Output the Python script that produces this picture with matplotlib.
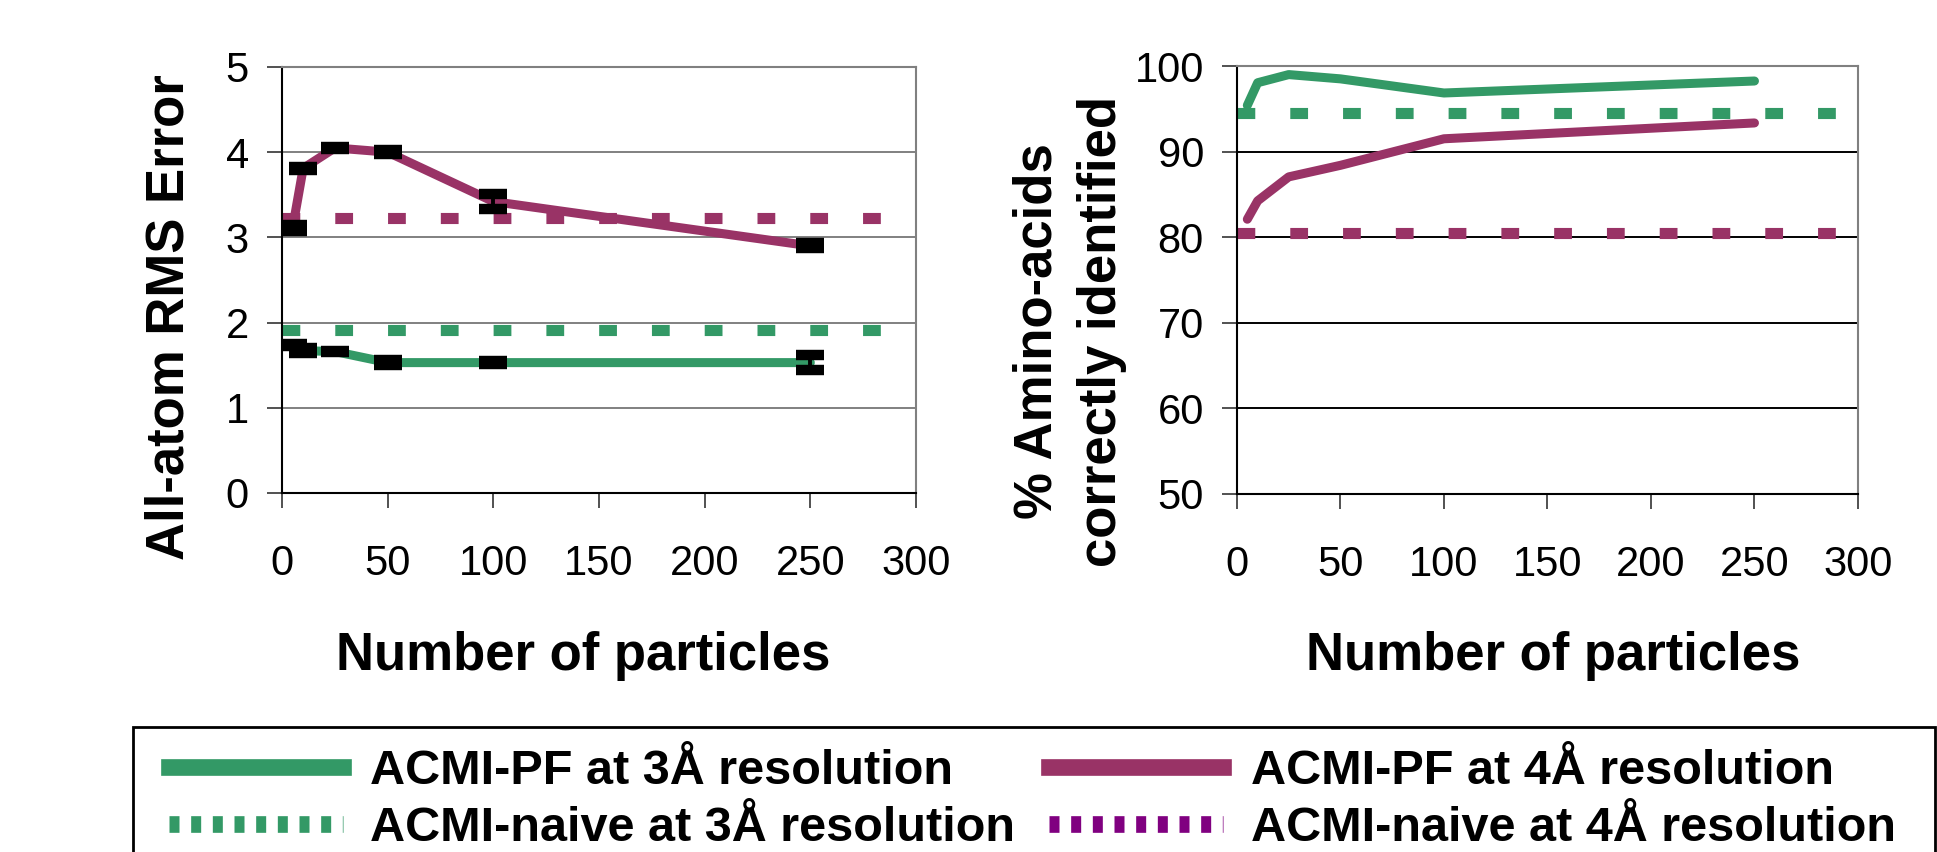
import matplotlib
matplotlib.use("Agg")
import matplotlib.pyplot as plt
from matplotlib.lines import Line2D
from matplotlib.patches import Rectangle

plt.rcParams["font.family"] = ["Liberation Sans", "DejaVu Sans"]

GREEN = "#339966"
MAGENTA = "#993366"
PURPLE = "#800080"

particles = [5, 10, 25, 50, 100, 250]

# left panel: all-atom RMS error
rms_pf_3a = [1.74, 1.67, 1.66, 1.53, 1.53, 1.53]
rms_pf_3a_err = [0.01, 0.03, 0.01, 0.03, 0.02, 0.09]
rms_pf_4a = [3.11, 3.81, 4.05, 4.00, 3.42, 2.90]
rms_pf_4a_err = [0.03, 0.02, 0.01, 0.02, 0.09, 0.03]
rms_naive_3a = 1.91
rms_naive_4a = 3.23

# right panel: % amino acids correctly identified
acc_pf_3a = [95.4, 98.05, 99.0, 98.5, 96.85, 98.25]
acc_pf_4a = [82.1, 84.25, 87.05, 88.4, 91.5, 93.35]
acc_naive_3a = 94.55
acc_naive_4a = 80.45

x_ticks = [0, 50, 100, 150, 200, 250, 300]
rms_ticks = [0, 1, 2, 3, 4, 5]
acc_ticks = [50, 60, 70, 80, 90, 100]

legend_labels = [
    "ACMI-PF at 3Å resolution",
    "ACMI-naive at 3Å resolution",
    "ACMI-PF at 4Å resolution",
    "ACMI-naive at 4Å resolution",
]

DOTTED = (0, (1.6, 3.15))
LEGEND_DOTTED = (0, (0.6, 0.7))
LABEL_KW = dict(fontsize=38, fontweight="bold")
SOLID_KW = dict(lw=6.5, solid_capstyle="round", solid_joinstyle="round", zorder=3)


def style_axes(ax, yticks, grid_color):
    ax.set_xlim(0, 300)
    ax.set_ylim(yticks[0], yticks[-1])
    ax.set_xticks(x_ticks)
    ax.set_yticks(yticks)
    ax.yaxis.grid(True, color=grid_color, linewidth=1.4)
    ax.set_axisbelow(True)
    for side in ("left", "bottom"):
        ax.spines[side].set_color("black")
        ax.spines[side].set_linewidth(1.5)
    for side in ("top", "right"):
        ax.spines[side].set_color("#808080")
        ax.spines[side].set_linewidth(1.5)
    ax.tick_params(direction="out", length=10.8, width=1.2, labelsize=30,
                   color="#333333")
    ax.tick_params(axis="x", pad=26)
    ax.tick_params(axis="y", pad=13)


fig = plt.figure(figsize=(19.37, 8.52), dpi=100)
ax_rms = fig.add_axes([0.1456, 0.4214, 0.3273, 0.5])
ax_acc = fig.add_axes([0.6386, 0.4202, 0.3206, 0.5023])

# --- RMS error ---
ax_rms.plot([0, 285], [rms_naive_3a] * 2, color=GREEN, lw=8, linestyle=DOTTED)
ax_rms.plot([0, 285], [rms_naive_4a] * 2, color=MAGENTA, lw=8, linestyle=DOTTED)
ax_rms.plot(particles, rms_pf_3a, color=GREEN, **SOLID_KW)
ax_rms.plot(particles, rms_pf_4a, color=MAGENTA, **SOLID_KW)
for vals, errs in ((rms_pf_3a, rms_pf_3a_err), (rms_pf_4a, rms_pf_4a_err)):
    ax_rms.errorbar(particles, vals, yerr=errs, fmt="none", ecolor="black",
                    elinewidth=2.8, capsize=10, capthick=7.5, zorder=4)
style_axes(ax_rms, rms_ticks, "#808080")
ax_rms.set_xlabel("Number of particles", va="baseline", **LABEL_KW)
ax_rms.xaxis.set_label_coords(0.475, -0.4155)
ax_rms.set_ylabel("All-atom RMS Error", va="baseline", **LABEL_KW)
ax_rms.yaxis.set_label_coords(-0.156, 0.413)

# --- accuracy ---
ax_acc.plot([0, 296], [acc_naive_3a] * 2, color=GREEN, lw=8, linestyle=DOTTED)
ax_acc.plot([0, 296], [acc_naive_4a] * 2, color=MAGENTA, lw=8, linestyle=DOTTED)
ax_acc.plot(particles, acc_pf_3a, color=GREEN, **SOLID_KW)
ax_acc.plot(particles, acc_pf_4a, color=MAGENTA, **SOLID_KW)
style_axes(ax_acc, acc_ticks, "#000000")
ax_acc.set_xlabel("Number of particles", va="baseline", **LABEL_KW)
ax_acc.xaxis.set_label_coords(0.51, -0.411)
for text, x in (("% Amino-acids", 1052), ("correctly identified", 1116)):
    fig.text(x / 1937, 1 - 331 / 852, text, rotation=90, rotation_mode="anchor",
             ha="center", va="baseline", **LABEL_KW)

# --- legend, frame runs off the bottom edge ---
handles = [
    Line2D([], [], color=GREEN, lw=12),
    Line2D([], [], color=GREEN, lw=12, linestyle=LEGEND_DOTTED),
    Line2D([], [], color=MAGENTA, lw=12),
    Line2D([], [], color=PURPLE, lw=12, linestyle=LEGEND_DOTTED),
]
fig.legend(handles, legend_labels, ncol=2, loc="upper left",
           bbox_to_anchor=(169 / 1937, 1 - 749 / 852), bbox_transform=fig.transFigure,
           frameon=False, borderpad=0, borderaxespad=0, handlelength=3.58,
           handletextpad=0.56, columnspacing=0.7, labelspacing=0.25,
           prop=dict(size=35, weight="bold"))
fig.patches.append(Rectangle((133 / 1937, -0.2), (1935 - 133) / 1937, 0.2 + 1 - 727 / 852,
                             transform=fig.transFigure, fill=False,
                             edgecolor="black", linewidth=2))

fig.savefig("out.png", dpi=100)
